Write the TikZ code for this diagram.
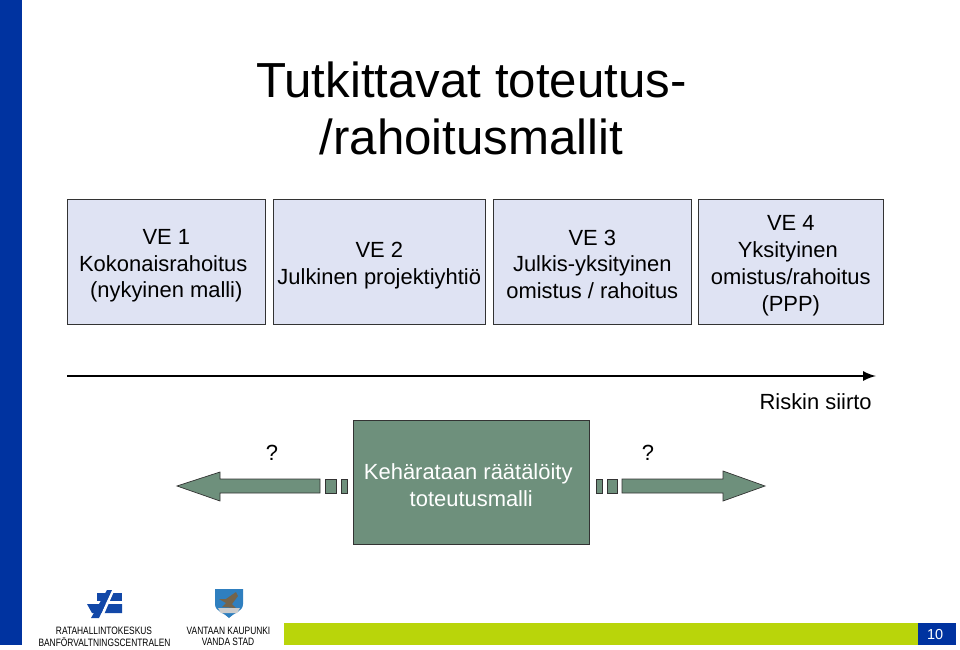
\documentclass[tikz,border=0pt]{standalone}
\usepackage{xcolor}
\usepackage{fontspec}
\setmainfont{Liberation Sans}
\usetikzlibrary{arrows, positioning}
\definecolor{barblue}{HTML}{0033A0}
\definecolor{boxfill}{HTML}{DFE3F3}
\definecolor{riskgreen}{HTML}{6E907C}
\definecolor{limebar}{HTML}{B9D50A}
\definecolor{logoblue}{HTML}{1248A8}
\definecolor{crestblue}{HTML}{2F7FBF}
\definecolor{crestbird}{HTML}{75644A}
\newcommand{\bodysize}{\fontsize{15.6}{19.1}\selectfont}
\newcommand{\logotext}[1]{\scalebox{0.785}[1]{\fontsize{7.6}{9}\selectfont #1}}
\newcommand{\toppad}[1]{\rule{0pt}{#1pt}}
\newcommand{\linepad}{\kern4.3pt}
\begin{document}
\begin{tikzpicture}[x=0.025cm,y=-0.025cm,>=stealth',thin]
            \tikzset{mallibox/.style={draw=black!80, fill=boxfill, align=center, inner sep=0pt, anchor=north west, font=\bodysize},
                     riskarrow/.style={draw=black!80, fill=riskgreen, line width=0.5pt},
                     plaintext/.style={inner sep=0pt, align=center, font=\bodysize}}
            \useasboundingbox (0,0) rectangle (960,650);
            % side bar and footer
            \fill[barblue] (0,0) rectangle (22,645);
            \fill[limebar] (284,623) rectangle (918,645);
            \node[fill=barblue, text=white, minimum width=38*0.025cm, minimum height=22*0.025cm, inner sep=0pt, anchor=north west, font=\fontsize{10.3}{12}\selectfont] (page) at (918,623) {10\kern3pt};
            % title
            \node[inner sep=0pt, align=center, font=\fontsize{35}{40.5}\selectfont] (title) at (471.5,108.5) {Tutkittavat toteutus-\\/rahoitusmallit};
            % the four models
            \node[mallibox, minimum width=198*0.025cm, minimum height=125*0.025cm] (ve1) at (67,199) {\toppad{16.5}VE 1\\Kokonaisrahoitus\linepad\\(nykyinen malli)};
            \node[mallibox, minimum width=212*0.025cm, minimum height=125*0.025cm] (ve2) at (273,199) {\toppad{16.5}VE 2\\Julkinen projektiyhtiö};
            \node[mallibox, minimum width=198*0.025cm, minimum height=125*0.025cm] (ve3) at (493,199) {\toppad{14.5}VE 3\\Julkis-yksityinen\\omistus / rahoitus};
            \node[mallibox, minimum width=185*0.025cm, minimum height=125*0.025cm] (ve4) at (698,199) {\toppad{16}VE 4\\Yksityinen\linepad\\omistus/rahoitus\\(PPP)};
            % risk axis
            \coordinate (riskstart) at (67,376);
            \coordinate (riskend) at (876,376);
            \draw[-latex, line width=2.1pt] (riskstart) -- (riskend);
            \node[plaintext, anchor=east] (riski) at (872,402) {Riskin siirto};
            % middle box
            \node[mallibox, fill=riskgreen, text=white, minimum width=236*0.025cm, minimum height=124*0.025cm] (keha) at (353,420) {\toppad{16}Kehärataan räätälöity\linepad\\toteutusmalli};
            % arrows either side
            \draw[riskarrow] (320,479) -- (220,479) -- (220,472) -- (177,486) -- (220,501) -- (220,493) -- (320,493) -- cycle;
            \draw[riskarrow] (325,479) rectangle (336,493);
            \draw[riskarrow] (341,479) rectangle (347,493);
            \draw[riskarrow] (622,479) -- (723,479) -- (723,471) -- (765,486) -- (723,501) -- (723,493) -- (622,493) -- cycle;
            \draw[riskarrow] (607,479) rectangle (617,493);
            \draw[riskarrow] (596,479) rectangle (602,493);
            \node[plaintext] (qleft) at (272,453) {?};
            \node[plaintext] (qright) at (648,453) {?};
            % logos
            \fill[logoblue] (97,593) -- (122,593) -- (122,601) -- (97,601) -- cycle;
            \fill[logoblue] (87,604) -- (122,604) -- (122,613) -- (92,613) -- cycle;
            \fill[white] (112,589) -- (115,589) -- (102,619) -- (99,619) -- cycle;
            \fill[logoblue] (107,590) -- (112,590) -- (99,618) -- (91,618) -- cycle;
            \fill[crestblue] (215,589) -- (243,589) -- (243,604) .. controls (243,612) and (233,613) .. (229,618) .. controls (225,613) and (215,612) .. (215,604) -- cycle;
            \fill[crestbird] (219,599) -- (226,599) -- (236,592) -- (238,596) -- (232,604) -- (236,608) -- (222,607) -- (226,603) -- cycle;
            \fill[black!20] (218,608) -- (240,608) -- (237,613) -- (221,613) -- cycle;
            \node[inner sep=0pt] (rhk1) at (104,631) {\logotext{RATAHALLINTOKESKUS}};
            \node[inner sep=0pt] (rhk2) at (104.5,642) {\logotext{BANFÖRVALTNINGSCENTRALEN}};
            \node[inner sep=0pt] (van1) at (228.5,631) {\logotext{VANTAAN KAUPUNKI}};
            \node[inner sep=0pt] (van2) at (228,642) {\logotext{VANDA STAD}};
        \end{tikzpicture}
\end{document}
